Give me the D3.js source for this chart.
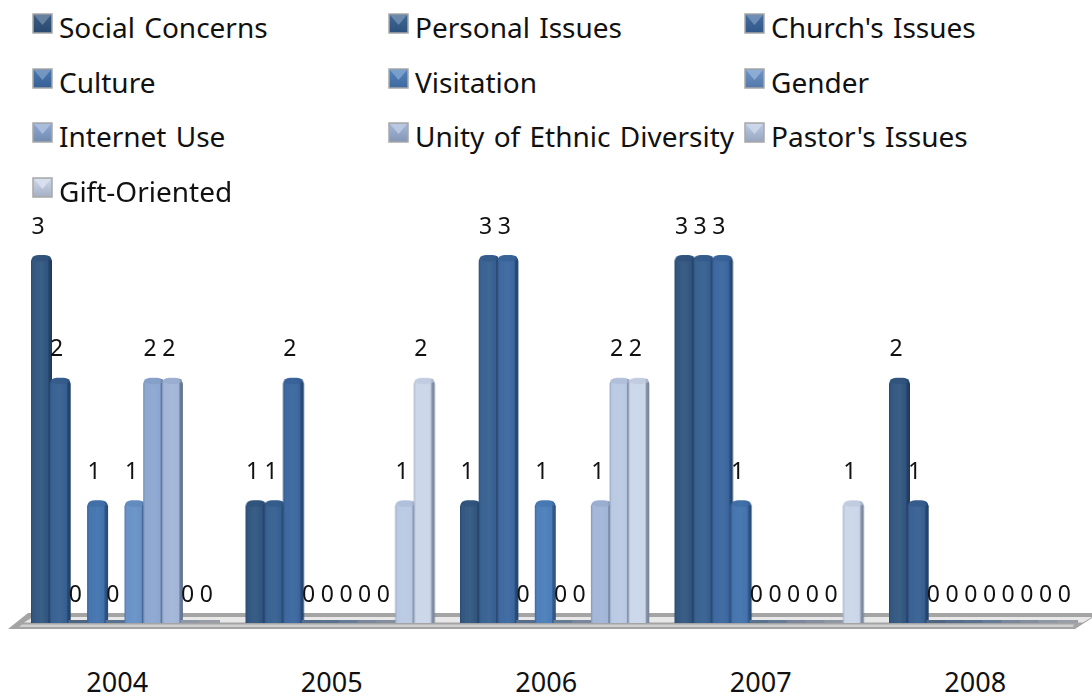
<!DOCTYPE html>
<html><head><meta charset="utf-8">
<script src="https://cdn.jsdelivr.net/npm/d3@7"></script>
<style>html,body{margin:0;padding:0;background:#fff}svg{display:block}text{font-family:"Noto Sans",sans-serif;fill:#111}</style>
</head><body><svg id="c" width="1092" height="699"></svg>
<script>
const years = ["2004","2005","2006","2007","2008"];
const seriesNames = ["Social Concerns","Personal Issues","Church's Issues","Culture","Visitation","Gender","Internet Use","Unity of Ethnic Diversity","Pastor's Issues","Gift-Oriented"];
const v2004 = [3,2,0,1,0,1,2,2,0,0];
const v2005 = [1,1,2,0,0,0,0,0,1,2];
const v2006 = [1,3,3,0,1,0,0,1,2,2];
const v2007 = [3,3,3,1,0,0,0,0,0,1];
const v2008 = [2,1,0,0,0,0,0,0,0,0];
const yearValues = [v2004,v2005,v2006,v2007,v2008];
const colors = ["#30557f","#355f90","#3a669e","#4272ad","#4a7dba","#6690c6","#8ba6d0","#a2b5d8","#bac9e3","#cbd6ea"];
const legendCols = [33,389,745], legendRows = [14,69,123,178];

const svg = d3.select("#c");
const defs = svg.append("defs");
const shade = (c,k)=>d3.interpolateRgb(c,k>0?"#fff":"#0b1a30")(Math.abs(k));
colors.forEach((c,i)=>{
  const g = defs.append("linearGradient").attr("id","bar"+i);
  [[0,shade(c,-.2)],[.1,shade(c,.02)],[.5,shade(c,.05)],[.8,c],[.86,shade(c,-.35)],[1,shade(c,-.45)]]
    .forEach(([o,col])=>g.append("stop").attr("offset",o).attr("stop-color",col));
  const s = defs.append("linearGradient").attr("id","sw"+i).attr("x2",0).attr("y2",1);
  [[0,shade(c,.05)],[1,shade(c,-.2)]]
    .forEach(([o,col])=>s.append("stop").attr("offset",o).attr("stop-color",col));
});
const soft = defs.append("filter").attr("id","soft");
soft.append("feGaussianBlur").attr("stdDeviation",0.6);

const x0 = d3.scaleBand().domain(years).range([10,1082.5]);
const x1 = d3.scaleBand().domain(d3.range(10)).range([21,208]);
const y = d3.scaleLinear().domain([0,3]).range([623,255]);
const barW = 21, labelShift = -3.5;

// floor
const fl = svg.append("g").attr("filter","url(#soft)");
const line = d3.line();
fl.append("path").attr("d",line([[28,613],[1092,613],[1092,618],[1075,629],[8,629]])+"Z").attr("fill","#a4a4a4");
fl.append("path").attr("d",line([[33,617],[1092,617],[1083,622.5],[24,622.5]])+"Z").attr("fill","#e8e8e8");
fl.append("path").attr("d",line([[22,624.5],[1074,624.5],[1073,627],[19,627]])+"Z").attr("fill","#cfcfcf");

// bars
const groups = svg.selectAll("g.year").data(years).join("g").attr("class","year")
  .attr("transform",d=>`translate(${x0(d)},0)`);
groups.each(function(yr,yi){
  const g = d3.select(this);
  const vals = yearValues[yi];
  const bars = g.append("g").attr("filter","url(#soft)");
  vals.forEach((v,i)=>{
    const left = x1(i), top = y(v), base = y(0);
    if(v===0){
      bars.append("rect").attr("x",left).attr("y",base-3).attr("width",x1.bandwidth()+2).attr("height",3)
        .attr("fill",d3.interpolateRgb(colors[i],"#666")(0.5));
      return;
    }
    const p = d3.path(), r = 6;
    p.moveTo(left,base); p.lineTo(left,top+r);
    p.quadraticCurveTo(left+1,top,left+r+1,top);
    p.lineTo(left+barW-r-1,top);
    p.quadraticCurveTo(left+barW-1,top,left+barW,top+r);
    p.lineTo(left+barW,base); p.closePath();
    bars.append("path").attr("d",p.toString()).attr("fill",`url(#bar${i})`);
    bars.append("ellipse").attr("cx",left+barW/2).attr("cy",top+3.5).attr("rx",barW/2-1).attr("ry",3)
      .attr("fill",shade(colors[i],-.08)).attr("opacity",.7);
  });
  g.selectAll("text.val").data(vals).join("text").attr("class","val")
    .attr("x",(d,i)=>x1(i)+barW/2+labelShift)
    .attr("y",d=>y(d)-21.5).attr("text-anchor","middle").attr("font-size",23)
    .text(d=>d);
});

// category axis
const axis = d3.axisBottom(x0).tickSize(0).tickPadding(0);
const ax = svg.append("g").attr("transform","translate(0,673)").call(axis);
ax.select(".domain").remove();
ax.selectAll("text").attr("font-size",27).attr("font-family",null).attr("dy","0.71em").attr("y",0).style("fill","#111");

// legend
const leg = svg.selectAll("g.leg").data(seriesNames).join("g").attr("class","leg")
  .attr("transform",(d,i)=>`translate(${legendCols[i%3]},${legendRows[Math.floor(i/3)]})`);
leg.append("rect").attr("width",19).attr("height",19).attr("fill",(d,i)=>`url(#sw${i})`)
  .attr("stroke","#a8a8a8").attr("stroke-width",1.5);
leg.append("path").attr("d",line([[1,1],[18,1],[9.5,11]])+"Z").attr("fill",(d,i)=>shade(colors[i],.3)).attr("opacity",.85);
leg.append("text").attr("x",26).attr("y",24).attr("font-size",28).attr("word-spacing",2).text(d=>d);
</script></body></html>
